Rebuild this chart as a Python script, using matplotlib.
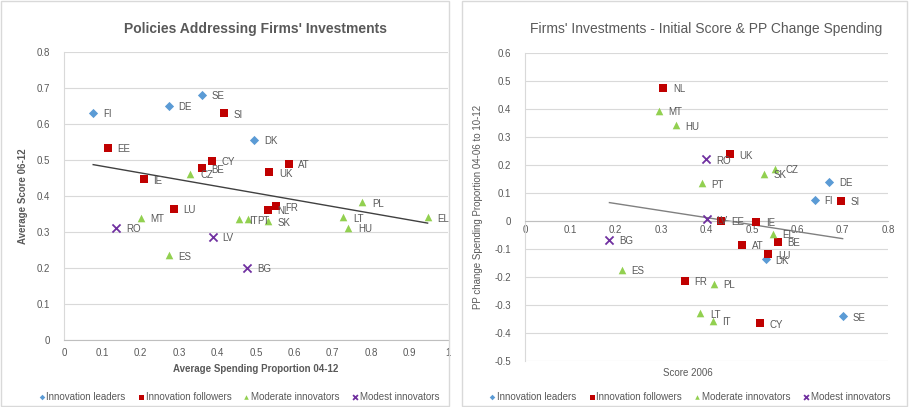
import numpy as np
import matplotlib
matplotlib.use('Agg')
import matplotlib.pyplot as plt
from matplotlib.patches import Rectangle

plt.rcParams['font.family'] = ['Liberation Sans', 'DejaVu Sans']

# --- Dados: painel esquerdo (gasto médio vs pontuação média) ---
groups = ['Innovation leaders', 'Innovation followers', 'Moderate innovators', 'Modest innovators']

left_lead_c = ['FI', 'DE', 'SE', 'DK']
left_lead_x = [0.076, 0.273, 0.36, 0.495]
left_lead_y = [0.631, 0.651, 0.681, 0.556]

left_foll_c = ['EE', 'SI', 'CY', 'BE', 'IE', 'AT', 'UK', 'LU', 'NL', 'FR']
left_foll_x = [0.114, 0.417, 0.386, 0.359, 0.208, 0.585, 0.535, 0.286, 0.531, 0.551]
left_foll_y = [0.534, 0.630, 0.498, 0.477, 0.446, 0.490, 0.466, 0.364, 0.361, 0.372]

left_mod_c = ['CZ', 'MT', 'ES', 'IT', 'PT', 'SK', 'LT', 'PL', 'HU', 'EL']
left_mod_x = [0.329, 0.200, 0.273, 0.456, 0.478, 0.531, 0.727, 0.777, 0.740, 0.947]
left_mod_y = [0.462, 0.340, 0.235, 0.335, 0.335, 0.330, 0.341, 0.383, 0.312, 0.341]

left_mdst_c = ['RO', 'LV', 'BG']
left_mdst_x = [0.136, 0.388, 0.477]
left_mdst_y = [0.312, 0.287, 0.200]

# --- Dados: painel direito (pontuação inicial vs variação do gasto) ---
right_lead_c = ['DE', 'FI', 'DK', 'SE']
right_lead_x = [0.671, 0.639, 0.531, 0.700]
right_lead_y = [0.138, 0.074, -0.138, -0.342]

right_foll_c = ['NL', 'UK', 'SI', 'EE', 'IE', 'BE', 'AT', 'LU', 'FR', 'CY']
right_foll_x = [0.305, 0.451, 0.697, 0.433, 0.510, 0.557, 0.479, 0.536, 0.352, 0.518]
right_foll_y = [0.475, 0.237, 0.071, 0.000, -0.005, -0.075, -0.086, -0.120, -0.214, -0.366]

right_mod_c = ['MT', 'HU', 'SK', 'CZ', 'PT', 'EL', 'ES', 'PL', 'LT', 'IT']
right_mod_x = [0.295, 0.332, 0.527, 0.552, 0.390, 0.546, 0.213, 0.416, 0.386, 0.414]
right_mod_y = [0.392, 0.341, 0.168, 0.186, 0.133, -0.047, -0.175, -0.226, -0.331, -0.358]

right_mdst_c = ['RO', 'LV', 'BG']
right_mdst_x = [0.399, 0.400, 0.186]
right_mdst_y = [0.219, 0.005, -0.068]

colors = ['#5B9BD5', '#C00000', '#92D050', '#7030A0']
markers = ['D', 's', '^', 'x']
sizes = [22, 36, 30, 34]
grey = '#595959'

fig = plt.figure(figsize=(9.09, 4.07), dpi=100)

# molduras dos dois gráficos (estilo Excel)
fig.patches.append(Rectangle((0.001, 0.002), 0.493, 0.996, transform=fig.transFigure,
                             fill=False, edgecolor='#D9D9D9', linewidth=1))
fig.patches.append(Rectangle((0.508, 0.002), 0.490, 0.996, transform=fig.transFigure,
                             fill=False, edgecolor='#D9D9D9', linewidth=1))


def draw_panel(ax, data, trend_color):
    handles = []
    all_x, all_y = [], []
    for i, (cs, xs, ys) in enumerate(data):
        if markers[i] == 'x':
            h = ax.scatter(xs, ys, marker='x', s=sizes[i], color=colors[i], linewidths=1.3,
                           label=groups[i], zorder=3)
        else:
            h = ax.scatter(xs, ys, marker=markers[i], s=sizes[i], color=colors[i],
                           label=groups[i], zorder=3, linewidths=0)
        handles.append(h)
        for c, x, y in zip(cs, xs, ys):
            ax.annotate(c, (x, y), xytext=(7, -1), textcoords='offset points',
                        fontsize=7, color=grey, va='center', zorder=4)
        all_x += xs
        all_y += ys
    # linha de tendência linear
    m, b = np.polyfit(all_x, all_y, 1)
    tx = np.array([min(all_x), max(all_x)])
    ax.plot(tx, m * tx + b, color=trend_color, linewidth=1, zorder=2)
    ax.grid(True, axis='y', color='#D9D9D9', linewidth=0.8)
    ax.set_axisbelow(True)
    for s in ['top', 'right']:
        ax.spines[s].set_visible(False)
    ax.spines['left'].set_color('#D9D9D9')
    ax.spines['bottom'].set_color('#BFBFBF')
    ax.tick_params(length=0, labelsize=7, colors=grey)
    return handles


legend_kw = dict(loc='center', ncol=4, frameon=False, fontsize=7, labelcolor=grey,
                 handletextpad=0.05, columnspacing=1.1, markerscale=0.6, handlelength=0.9,
                 borderpad=0.2)

# --- Painel esquerdo ---
ax1 = fig.add_axes([0.0704, 0.1646, 0.4224, 0.7074])
h1 = draw_panel(ax1, [(left_lead_c, left_lead_x, left_lead_y),
                      (left_foll_c, left_foll_x, left_foll_y),
                      (left_mod_c, left_mod_x, left_mod_y),
                      (left_mdst_c, left_mdst_x, left_mdst_y)], '#404040')
ax1.set_xlim(0, 1)
ax1.set_ylim(0, 0.8)
ax1.set_xticks(np.arange(0, 1.01, 0.1))
ax1.set_xticklabels(['0', '0.1', '0.2', '0.3', '0.4', '0.5', '0.6', '0.7', '0.8', '0.9', '1'])
ax1.set_yticks(np.arange(0, 0.81, 0.1))
ax1.set_yticklabels(['0', '0.1', '0.2', '0.3', '0.4', '0.5', '0.6', '0.7', '0.8'])
ax1.tick_params(axis='x', pad=6)
ax1.tick_params(axis='y', pad=10)
ax1.set_title("Policies Addressing Firms' Investments", fontsize=10, fontweight='bold',
              color=grey, pad=14)
ax1.set_xlabel('Average Spending Proportion 04-12', fontsize=7, fontweight='bold', color=grey, labelpad=4)
ax1.set_ylabel('Average Score 06-12', fontsize=7, fontweight='bold', color=grey, labelpad=6)
fig.legend(handles=h1, labels=groups, bbox_to_anchor=(0.262, 0.025), **legend_kw)

# --- Painel direito ---
ax2 = fig.add_axes([0.5776, 0.1138, 0.3993, 0.7567])
h2 = draw_panel(ax2, [(right_lead_c, right_lead_x, right_lead_y),
                      (right_foll_c, right_foll_x, right_foll_y),
                      (right_mod_c, right_mod_x, right_mod_y),
                      (right_mdst_c, right_mdst_x, right_mdst_y)], '#808080')
ax2.set_xlim(0, 0.8)
ax2.set_ylim(-0.5, 0.6)
ax2.spines['bottom'].set_position(('data', 0))
ax2.set_xticks(np.arange(0, 0.81, 0.1))
ax2.set_xticklabels(['0', '0.1', '0.2', '0.3', '0.4', '0.5', '0.6', '0.7', '0.8'])
ax2.set_yticks(np.arange(-0.5, 0.61, 0.1))
ax2.set_yticklabels(['-0.5', '-0.4', '-0.3', '-0.2', '-0.1', '0', '0.1', '0.2', '0.3', '0.4', '0.5', '0.6'])
ax2.tick_params(axis='x', pad=3)
ax2.tick_params(axis='y', pad=10)
ax2.set_title("Firms' Investments - Initial Score & PP Change Spending", fontsize=10,
              color=grey, pad=14)
ax2.set_xlabel('Score 2006', fontsize=7, color=grey, labelpad=2)
ax2.xaxis.set_label_coords(0.45, -0.025)
ax2.set_ylabel('PP change Spending Proportion 04-06 to 10-12', fontsize=7, color=grey, labelpad=8)
fig.legend(handles=h2, labels=groups, bbox_to_anchor=(0.758, 0.025), **legend_kw)

fig.savefig('out.png', dpi=100)
